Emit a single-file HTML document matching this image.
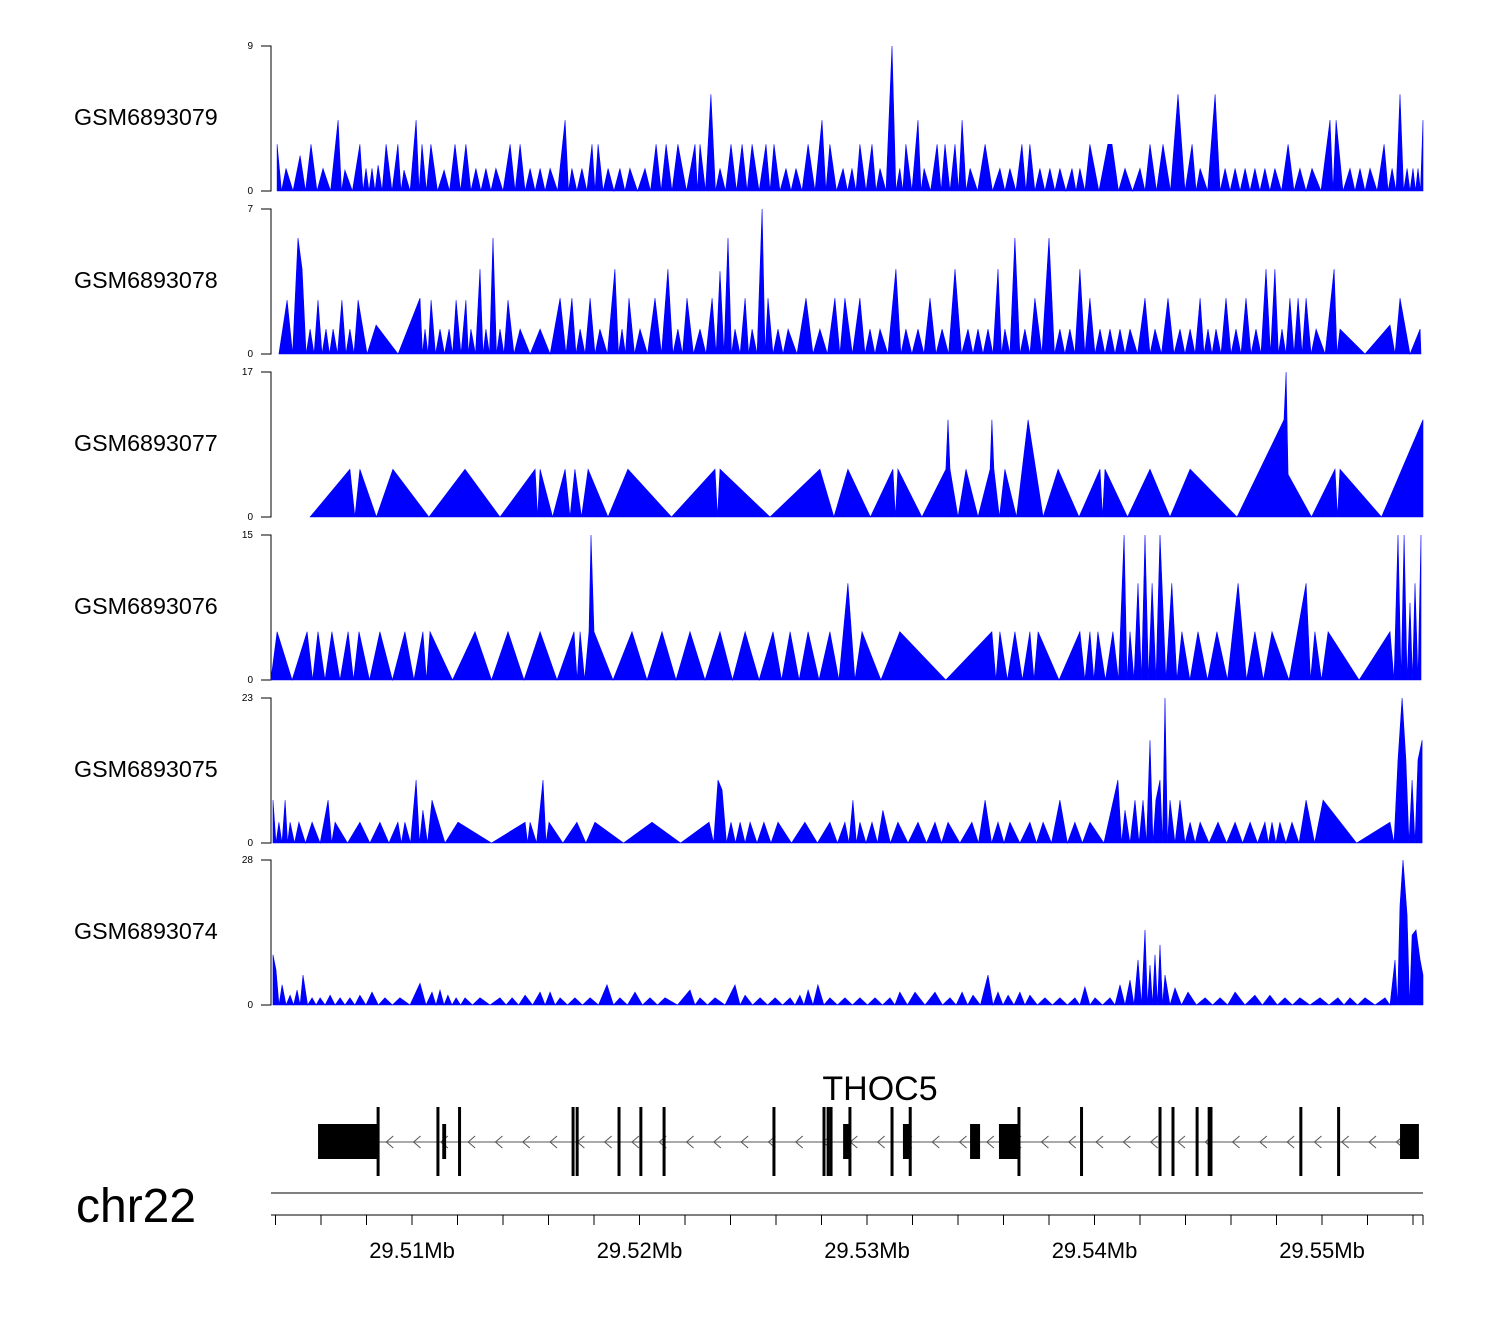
<!DOCTYPE html>
<html><head><meta charset="utf-8"><style>
body{margin:0;background:#fff}
svg{display:block;font-family:"Liberation Sans",sans-serif}
</style></head><body>
<svg id="chart" width="1500" height="1320" viewBox="0 0 1500 1320" xmlns="http://www.w3.org/2000/svg">
<g id="tracks"></g>
<g id="gene"></g>
<text x="880" y="1100" font-size="34" text-anchor="middle">THOC5</text>
<text x="76" y="1222" font-size="48">chr22</text>
<g id="axis"></g>
</svg>
<script>
// positions in kb offset from 29.500 Mb
const names=["GSM6893079","GSM6893078","GSM6893077","GSM6893076","GSM6893075","GSM6893074"];
const maxVals=[9,7,17,15,23,28];
const t1Pos=[4.07,4.46,5.08,5.56,6.09,6.75,7.05,7.71,7.98,8.24,8.51,8.86,9.38,9.65,10.18,10.44,10.83,11.41,11.89,12.37,12.81,13.25,13.69,14.31,14.75,15.19,15.63,16.07,16.73,17.03,17.47,17.91,18.18,18.62,19.14,19.58,20.24,20.73,21.17,21.69,22.44,22.66,23.14,23.54,24.02,24.51,24.95,25.56,25.91,26.44,26.88,27.41,28.02,28.37,28.95,29.34,29.69,30.22,30.57,31.10,31.44,31.71,32.24,32.51,33.08,33.43,33.87,34.18,34.53,35.19,35.84,36.28,36.81,37.16,37.60,38.04,38.48,39.01,39.36,39.80,40.59,40.77,41.34,42.00,42.44,43.01,43.67,44.29,44.64,45.30,45.74,46.18,46.62,47.05,47.49,47.93,48.51,49.03,49.56,50.35,50.62,51.23,51.67,52.11,52.73,53.08,53.43,53.74,54.00,54.22,54.44];
const t1Val=[2.9,1.4,2.2,2.9,1.4,4.4,1.3,2.9,1.4,1.4,1.6,2.9,2.9,1.3,4.4,2.9,2.9,1.3,2.9,2.9,1.4,1.4,1.4,2.9,2.9,1.4,1.4,1.4,4.4,1.4,1.4,2.9,2.9,1.4,1.4,1.4,1.4,2.9,2.9,2.9,2.9,2.9,6,1.4,2.9,2.9,2.9,2.9,2.9,1.4,1.4,2.9,4.4,2.9,1.4,1.4,2.9,2.9,1.4,9,1.4,2.9,4.4,1.4,2.9,2.9,2.9,4.4,1.4,2.9,1.4,1.4,2.9,2.9,1.4,1.4,1.4,1.4,1.4,2.9,2.9,2.9,1.4,1.4,2.9,2.9,6,2.9,1.4,6,1.4,1.4,1.4,1.4,1.4,1.4,2.9,1.4,1.4,4.4,4.4,1.4,1.4,1.4,2.9,1.4,6,1.4,1.4,1.4,4.4];
const t2Pos=[4.15,4.51,4.99,5.17,5.52,5.87,6.22,6.53,6.92,7.27,7.63,8.42,9.39,10.35,10.57,10.84,11.23,11.63,11.94,12.37,12.59,12.99,13.25,13.56,13.87,14.22,14.75,15.63,16.51,17.03,17.39,17.83,18.26,18.92,19.23,19.54,20.02,20.68,21.25,21.69,22.09,22.66,23.19,23.54,23.89,24.20,24.64,24.95,25.39,25.65,26.09,26.53,27.32,27.93,28.59,29.03,29.69,30.13,30.57,31.27,31.71,32.24,32.77,33.30,33.87,34.44,34.88,35.32,35.76,36.06,36.50,36.94,37.38,38.00,38.48,38.92,39.36,39.80,40.24,40.68,41.12,41.56,42.22,42.66,43.23,43.76,44.20,44.64,44.99,45.34,45.78,46.22,46.66,47.10,47.54,47.93,48.24,48.59,48.95,49.30,49.74,50.53,50.79,51.89,52.99,53.43,54.31,54.35];
const t2Val=[0,2.6,5.6,4.1,1.2,2.6,1.2,1.2,2.6,1.2,2.6,1.4,0,2.7,1.2,2.6,1.2,1.2,2.6,2.6,1.2,4.1,1.2,5.6,1.2,2.6,1.2,1.2,2.7,2.7,1.2,2.7,1.2,4.1,1.2,2.7,1.2,2.7,4.1,1.2,2.7,1.2,2.7,4.0,5.6,1.2,2.7,1.2,7,2.7,1.2,1.2,2.7,1.2,2.7,2.7,2.7,1.2,1.2,4.1,1.2,1.2,2.7,1.2,4.1,1.2,1.2,1.2,4.1,1.2,5.6,1.2,2.7,5.6,1.2,1.2,4.1,2.7,1.2,1.2,1.2,1.2,2.7,1.2,2.7,1.2,1.2,2.7,1.2,1.2,2.7,1.2,2.7,1.2,4.1,4.1,1.2,2.7,2.7,2.7,1.2,4.1,1.2,0,1.4,2.7,1.2,0];
const t3Pos=[5.52,7.27,7.71,9.16,12.33,15.41,15.63,16.73,17.16,17.74,19.49,23.32,23.54,27.93,29.16,31.14,31.36,33.47,33.56,33.65,34.35,35.41,35.49,35.58,36.06,37.08,38.40,40.24,40.46,42.44,44.20,48.33,48.42,48.51,50.57,50.79,54.44];
const t3Val=[0,5.6,5.6,5.6,5.6,5.6,5.6,5.6,5.6,5.6,5.6,5.6,5.6,5.6,5.6,5.6,5.6,5.6,11.4,5.6,5.6,5.6,11.4,5.6,5.6,11.4,5.6,5.6,5.6,5.6,5.6,11.4,17,5,5.6,5.6,11.4];
const t4Pos=[3.80,4.07,5.39,5.87,6.48,7.19,7.67,8.59,9.69,10.48,10.79,12.77,14.22,15.63,17.12,17.39,17.78,17.87,18.00,19.67,20.99,22.22,23.54,24.64,25.87,26.62,27.41,28.37,29.16,29.78,31.44,35.49,35.84,36.50,37.16,37.52,39.36,39.80,40.15,40.81,41.30,41.56,41.91,42.22,42.53,42.88,43.40,43.84,44.55,45.38,46.31,47.05,47.80,49.30,49.69,50.27,52.99,53.34,53.61,53.87,54.09,54.35];
const t4Val=[0,5,5,5,5,5,5,5,5,5,5,5,5,5,5,5,5,15,5,5,5,5,5,5,5,5,5,5,10,5,5,5,5,5,5,5,5,5,5,5,15,5,10,15,10,15,10,5,5,5,10,5,5,10,5,5,5,15,15,8,10,15];
const t5Pos=[3.89,4.15,4.42,4.64,5.03,5.61,6.31,6.62,7.71,8.59,9.38,9.69,10.18,10.48,10.88,12.02,14.97,15.19,15.76,16.02,17.25,18.04,20.55,23.06,23.45,23.63,24.02,24.42,24.86,25.47,26.09,27.27,28.37,29.03,29.38,29.69,30.22,30.70,31.36,32.24,32.99,33.56,34.61,35.19,35.76,36.28,37.16,37.74,38.48,39.14,39.80,41.03,41.34,41.78,42.13,42.44,42.70,42.88,43.10,43.32,43.76,44.20,44.64,45.43,46.18,46.84,47.49,47.80,48.15,48.68,49.30,50.05,52.99,53.34,53.52,53.69,53.96,54.22,54.40];
const t5Val=[6.8,3.3,6.8,3.3,3.3,3.3,6.8,3.3,3.3,3.3,3.3,3.3,10,5.2,6.8,3.3,3.3,3.3,10,3.3,3.3,3.3,3.3,3.3,10,8.4,3.3,3.3,3.3,3.3,3.3,3.3,3.3,3.3,6.8,3.3,3.3,5.2,3.3,3.3,3.3,3.3,3.3,6.8,3.3,3.3,3.3,3.3,6.8,3.3,3.3,10,5.2,6.8,6.8,16.3,6.8,10,23,6.8,6.8,3.3,3.3,3.3,3.3,3.3,3.3,3.3,3.3,3.3,6.8,6.8,3.3,13.2,23,13.2,10,13.2,16.3];
const t6Pos=[3.89,4.02,4.29,4.64,4.95,5.21,5.61,5.96,6.40,6.84,7.27,7.71,8.24,8.81,9.47,10.35,10.88,11.23,11.58,11.94,12.33,12.99,13.87,14.40,14.97,15.63,16.07,16.51,17.16,17.83,18.57,19.14,19.80,20.46,21.12,22.22,22.66,23.32,24.20,24.64,25.30,25.96,26.62,27.05,27.41,27.84,28.37,29.03,29.69,30.35,31.01,31.44,32.11,32.99,33.65,34.18,34.66,35.32,35.76,36.20,36.72,37.16,37.82,38.48,39.14,39.58,40.02,40.68,41.12,41.56,41.91,42.22,42.44,42.66,42.88,43.10,43.54,44.11,44.86,45.52,46.18,47.05,47.71,48.37,49.03,49.91,50.70,51.23,51.89,52.77,53.21,53.43,53.56,53.74,53.96,54.13,54.31,54.44];
const t6Val=[9.7,6.8,3.9,1.9,2.9,5.8,1.4,1.4,1.9,1.4,1.4,1.9,2.5,1.4,1.4,4.2,2.5,2.9,1.9,1.4,1.4,1.4,1.4,1.4,1.9,2.5,2.5,1.4,1.4,1.4,3.9,1.4,2.5,1.4,1.4,2.9,1.4,1.4,3.9,1.9,1.4,1.4,1.4,1.9,2.9,3.9,1.4,1.4,1.4,1.4,1.4,2.5,2.5,2.5,1.4,2.5,1.9,5.8,2.5,1.9,2.5,1.9,1.4,1.4,1.4,3.5,1.4,1.4,3.9,4.8,8.7,14.5,7.7,9.7,11.6,5.8,3.3,2.5,1.4,1.4,2.5,1.9,1.9,1.4,1.4,1.4,1.4,1.4,1.4,1.4,8.7,19.3,28,17.4,13.5,14.5,8.7,5.8];
const posArrays=[t1Pos,t2Pos,t3Pos,t4Pos,t5Pos,t6Pos];
const valArrays=[t1Val,t2Val,t3Val,t4Val,t5Val,t6Val];
// gene model (kb): thick blocks and coding-exon lines
const blockStart=[5.87,11.33,28.95,31.58,34.53,35.80,53.43];
const blockEnd=[8.51,11.50,29.21,31.93,34.97,36.68,54.26];
const exonLines=[8.51,11.14,12.09,17.08,17.26,19.10,20.06,21.08,25.91,28.11,28.29,28.42,29.25,31.10,31.90,36.68,39.43,42.88,43.45,44.51,45.04,45.12,49.07,50.73];
const majorTicks=[10,20,30,40,50];
const majorLabels=["29.51Mb","29.52Mb","29.53Mb","29.54Mb","29.55Mb"];
const minorTicks=[4,6,8,10,12,14,16,18,20,22,24,26,28,30,32,34,36,38,40,42,44,46,48,50,52,54];

const NS="http://www.w3.org/2000/svg";
const X0=184.5,KB=22.75,LEFT=271,RIGHT=1423;
const xs=k=>X0+k*KB;
const tops=[46,209,372,535,698,860],H=145;
function mk(tag,attrs,parent){const e=document.createElementNS(NS,tag);for(const k in attrs)e.setAttribute(k,attrs[k]);parent.appendChild(e);return e;}
const tracksG=document.getElementById('tracks');
for(let t=0;t<6;t++){
  const top=tops[t],base=top+H,ys=v=>base-v/maxVals[t]*H;
  const g=mk('g',{},tracksG);
  
  
  const lab=mk('text',{x:74,y:top+79,'font-size':23.3},g);lab.textContent=names[t];
  
  
  const ax=mk('path',{d:`M${LEFT-10},${top}H${LEFT}V${base}H${LEFT-10}`,fill:'none',stroke:'#000','stroke-width':1},g);
  
  
  const tTop=mk('text',{x:LEFT-18,y:top+3,'font-size':10,'text-anchor':'end'},g);tTop.textContent=String(maxVals[t]);
  
  
  const tB=mk('text',{x:LEFT-18,y:base+3,'font-size':10,'text-anchor':'end'},g);tB.textContent='0';
  
  
  const P=posArrays[t],V=valArrays[t];
  let pts=[];
  for(let i=0;i<P.length;i++){
    if(i>0&&V[i]>0&&V[i-1]>0&&P[i]-P[i-1]>0.2){pts.push([(P[i]+P[i-1])/2,0]);}
    pts.push([P[i],V[i]]);
  }
  let d=`M${xs(pts[0][0]).toFixed(1)},${base}`;
  for(const p of pts)d+=`L${xs(p[0]).toFixed(1)},${ys(p[1]).toFixed(1)}`;
  d+=`L${xs(pts[pts.length-1][0]).toFixed(1)},${base}Z`;
  const area=mk('path',{d:d,fill:'#0000ff',stroke:'#0000ff','stroke-width':0.6,'stroke-linejoin':'miter'},g);
  
  
}
// gene
const geneG=document.getElementById('gene');
const gy=1142;
const intron=mk('line',{x1:xs(blockStart[0]),x2:xs(blockEnd[blockEnd.length-1]),y1:gy,y2:gy,stroke:'#777','stroke-width':1.3},geneG);


for(let k=9.0;k<54.2;k+=1.2){
  const x=xs(k);
  const a=mk('path',{d:`M${x+4},${gy-6}L${x-3},${gy}L${x+4},${gy+6}`,fill:'none',stroke:'#555','stroke-width':1},geneG);
  
  
}
for(let i=0;i<blockStart.length;i++){
  const r=mk('rect',{x:xs(blockStart[i]),y:1124,width:xs(blockEnd[i])-xs(blockStart[i]),height:35,fill:'#000'},geneG);
  
  
}
for(const e of exonLines){
  const r=mk('rect',{x:xs(e)-1.5,y:1107,width:3,height:69,fill:'#000'},geneG);
  
  
}
// axis
const axG=document.getElementById('axis');
const sep=mk('line',{x1:LEFT,x2:RIGHT,y1:1193,y2:1193,stroke:'#000','stroke-width':1},axG);


const sc=mk('line',{x1:LEFT,x2:RIGHT,y1:1215,y2:1215,stroke:'#000','stroke-width':1},axG);


mk('line',{x1:RIGHT,x2:RIGHT,y1:1215,y2:1225,stroke:'#000'},axG);
for(const k of minorTicks){
  const tk=mk('line',{x1:xs(k),x2:xs(k),y1:1215,y2:1225,stroke:'#000','stroke-width':1},axG);
  
  
}
for(let i=0;i<majorTicks.length;i++){
  const tx=mk('text',{x:xs(majorTicks[i]),y:1258,'font-size':22,'text-anchor':'middle'},axG);
  tx.textContent=majorLabels[i];
  
  
}
</script>
</body></html>
